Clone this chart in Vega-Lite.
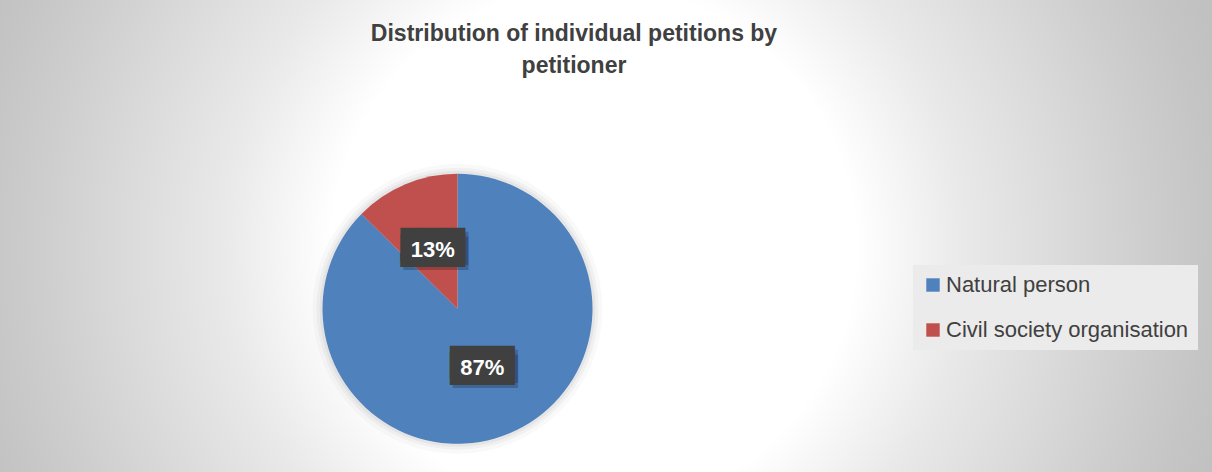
{
  "$schema": "https://vega.github.io/schema/vega-lite/v6.json",
  "width": 1212,
  "height": 472,
  "autosize": {"type": "none"},
  "padding": 0,
  "background": "#e0e0e0",
  "config": {
    "view": {"stroke": null},
    "legend": {
      "orient": "none",
      "legendX": 913,
      "legendY": 265,
      "fillColor": "#ebebeb",
      "padding": 9,
      "labelFont": "Liberation Sans",
      "labelFontSize": 22,
      "labelColor": "#404040",
      "labelLimit": 400,
      "labelOffset": 2,
      "symbolType": "square",
      "symbolSize": 180,
      "symbolStrokeWidth": 0,
      "rowPadding": 23,
      "title": null
    }
  },
  "title": {
    "text": ["Distribution of individual petitions by", "petitioner"],
    "font": "Liberation Sans",
    "fontSize": 23,
    "fontWeight": "bold",
    "color": "#404040",
    "lineHeight": 32,
    "anchor": "middle",
    "baseline": "top",
    "offset": 0,
    "dx": -32,
    "dy": 78
  },
  "data": {
    "values": [
      {"petitioner": "Natural person", "share": 0.874},
      {"petitioner": "Civil society organisation", "share": 0.126}
    ]
  },
  "layer": [
    {
      "mark": {
        "type": "rect",
        "fill": {
          "gradient": "radial",
          "x1": 0.49, "y1": 0.51, "r1": 0,
          "x2": 0.49, "y2": 0.51, "r2": 0.54,
          "stops": [
            {"offset": 0, "color": "#ffffff"},
            {"offset": 0.4, "color": "#ffffff"},
            {"offset": 0.566, "color": "#e9e9e9"},
            {"offset": 0.72, "color": "#dadada"},
            {"offset": 0.84, "color": "#cecece"},
            {"offset": 0.94, "color": "#c5c5c5"},
            {"offset": 1, "color": "#c1c1c1"}
          ]
        }
      },
      "encoding": {}
    },
    {
      "transform": [{"filter": "datum.share > 0.5"}],
      "mark": {"type": "arc", "x": 457.5, "y": 308.8, "outerRadius": 145, "theta": 0, "theta2": 6.2832, "color": "#000000", "opacity": 0.025},
      "encoding": {}
    },
    {
      "transform": [{"filter": "datum.share > 0.5"}],
      "mark": {"type": "arc", "x": 457.5, "y": 308.8, "outerRadius": 141, "theta": 0, "theta2": 6.2832, "color": "#000000", "opacity": 0.035},
      "encoding": {}
    },
    {
      "transform": [{"filter": "datum.share > 0.5"}],
      "mark": {"type": "arc", "x": 457.5, "y": 308.8, "outerRadius": 138, "theta": 0, "theta2": 6.2832, "color": "#000000", "opacity": 0.045},
      "encoding": {}
    },
    {
      "mark": {"type": "arc", "x": 457.5, "y": 308.8, "outerRadius": 135},
      "encoding": {
        "theta": {"field": "share", "type": "quantitative", "stack": true},
        "order": {"field": "share", "sort": "descending"},
        "color": {
          "field": "petitioner",
          "type": "nominal",
          "scale": {
            "domain": ["Natural person", "Civil society organisation"],
            "range": ["#4F81BD", "#C0504D"]
          }
        }
      }
    },
    {
      "mark": {"type": "text", "x": 457.5, "y": 308.8, "radius": 64, "font": "DejaVu Sans", "fontSize": 28, "color": "#000000", "opacity": 0.2, "dx": 3, "dy": 0, "align": "center", "baseline": "middle"},
      "encoding": {
        "theta": {"field": "share", "type": "quantitative", "stack": true},
        "order": {"field": "share", "sort": "descending"},
        "text": {"value": "███"}
      }
    },
    {
      "mark": {"type": "text", "x": 457.5, "y": 308.8, "radius": 64, "font": "DejaVu Sans", "fontSize": 28, "color": "#000000", "opacity": 0.2, "dx": 3, "dy": 5, "align": "center", "baseline": "middle"},
      "encoding": {
        "theta": {"field": "share", "type": "quantitative", "stack": true},
        "order": {"field": "share", "sort": "descending"},
        "text": {"value": "███"}
      }
    },
    {
      "mark": {"type": "text", "x": 457.5, "y": 308.8, "radius": 64, "font": "DejaVu Sans", "fontSize": 28, "color": "#404040", "dy": -4, "align": "center", "baseline": "middle"},
      "encoding": {
        "theta": {"field": "share", "type": "quantitative", "stack": true},
        "order": {"field": "share", "sort": "descending"},
        "text": {"value": "███"}
      }
    },
    {
      "mark": {"type": "text", "x": 457.5, "y": 308.8, "radius": 64, "font": "DejaVu Sans", "fontSize": 28, "color": "#404040", "dy": 2, "align": "center", "baseline": "middle"},
      "encoding": {
        "theta": {"field": "share", "type": "quantitative", "stack": true},
        "order": {"field": "share", "sort": "descending"},
        "text": {"value": "███"}
      }
    },
    {
      "mark": {"type": "text", "x": 457.5, "y": 308.8, "radius": 64, "font": "Liberation Sans", "fontSize": 22, "fontWeight": "bold", "color": "#ffffff", "align": "center", "baseline": "middle"},
      "encoding": {
        "theta": {"field": "share", "type": "quantitative", "stack": true},
        "order": {"field": "share", "sort": "descending"},
        "text": {"field": "share", "type": "quantitative", "format": ".0%"}
      }
    }
  ]
}
